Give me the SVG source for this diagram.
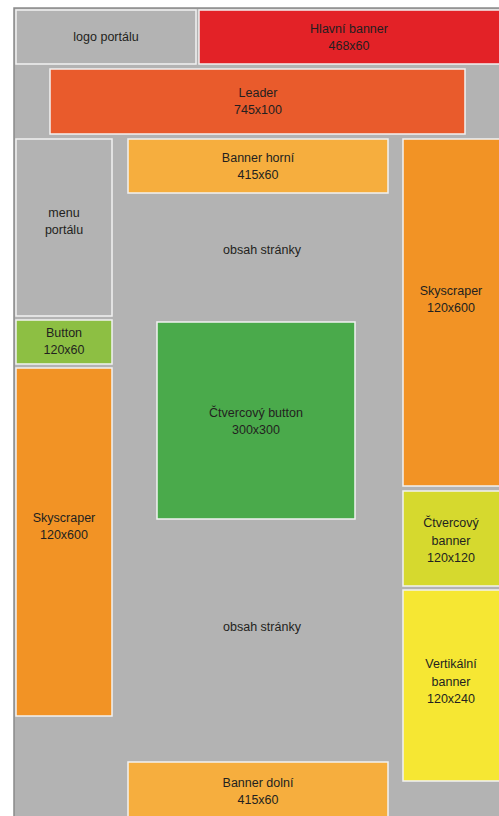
<svg xmlns="http://www.w3.org/2000/svg" width="499" height="816" viewBox="0 0 499 816">
<style>
.b{stroke:#f2f2f2;stroke-width:1.5}
text{font-family:"Liberation Sans",Arial,sans-serif;font-size:12.5px;fill:#231f20;text-anchor:middle}
</style>
<rect width="499" height="816" fill="#ffffff"/>
<rect x="14" y="8" width="490" height="812" fill="#b3b3b3" stroke="#8a8a8a" stroke-width="1.5"/>
<g id="logo"><rect class="b" x="16" y="10" width="180" height="54" fill="#b3b3b3"/><text x="106" y="41">logo portálu</text></g>
<g id="hlavni"><rect class="b" x="199" y="10" width="305" height="54" fill="#e32227"/><text x="349" y="33">Hlavní banner</text><text x="349" y="50">468x60</text></g>
<g id="leader"><rect class="b" x="50" y="69" width="415" height="65" fill="#e95b2c"/><text x="258" y="97">Leader</text><text x="258" y="114">745x100</text></g>
<g id="menu"><rect class="b" x="16" y="139" width="96" height="177" fill="#b3b3b3"/><text x="64" y="217">menu</text><text x="64" y="234">portálu</text></g>
<g id="banner-horni"><rect class="b" x="128" y="139" width="260" height="54" fill="#f6ae3e"/><text x="258" y="162">Banner horní</text><text x="258" y="179">415x60</text></g>
<g id="sky-right"><rect class="b" x="403" y="139" width="100" height="347" fill="#f29325"/><text x="451" y="295">Skyscraper</text><text x="451" y="312">120x600</text></g>
<g id="obsah1"><text x="262" y="254">obsah stránky</text></g>
<g id="button"><rect class="b" x="16" y="320" width="96" height="44" fill="#8dbf43"/><text x="64" y="337">Button</text><text x="64" y="354">120x60</text></g>
<g id="ctv-button"><rect class="b" x="157" y="322" width="198" height="197" fill="#4aaa4b"/><text x="256" y="417">Čtvercový button</text><text x="256" y="434">300x300</text></g>
<g id="sky-left"><rect class="b" x="16" y="368" width="96" height="348" fill="#f29325"/><text x="64" y="522">Skyscraper</text><text x="64" y="539">120x600</text></g>
<g id="ctv-banner"><rect class="b" x="403" y="491" width="100" height="95" fill="#d6d92e"/><text x="451" y="527">Čtvercový</text><text x="451" y="545">banner</text><text x="451" y="562">120x120</text></g>
<g id="obsah2"><text x="262" y="631">obsah stránky</text></g>
<g id="vertikalni"><rect class="b" x="403" y="590" width="100" height="191" fill="#f6e733"/><text x="451" y="668">Vertikální</text><text x="451" y="686">banner</text><text x="451" y="703">120x240</text></g>
<g id="banner-dolni"><rect class="b" x="128" y="762" width="260" height="60" fill="#f6ae3e"/><text x="258" y="787">Banner dolní</text><text x="258" y="804">415x60</text></g>
<g id="connectors"/>
</svg>
